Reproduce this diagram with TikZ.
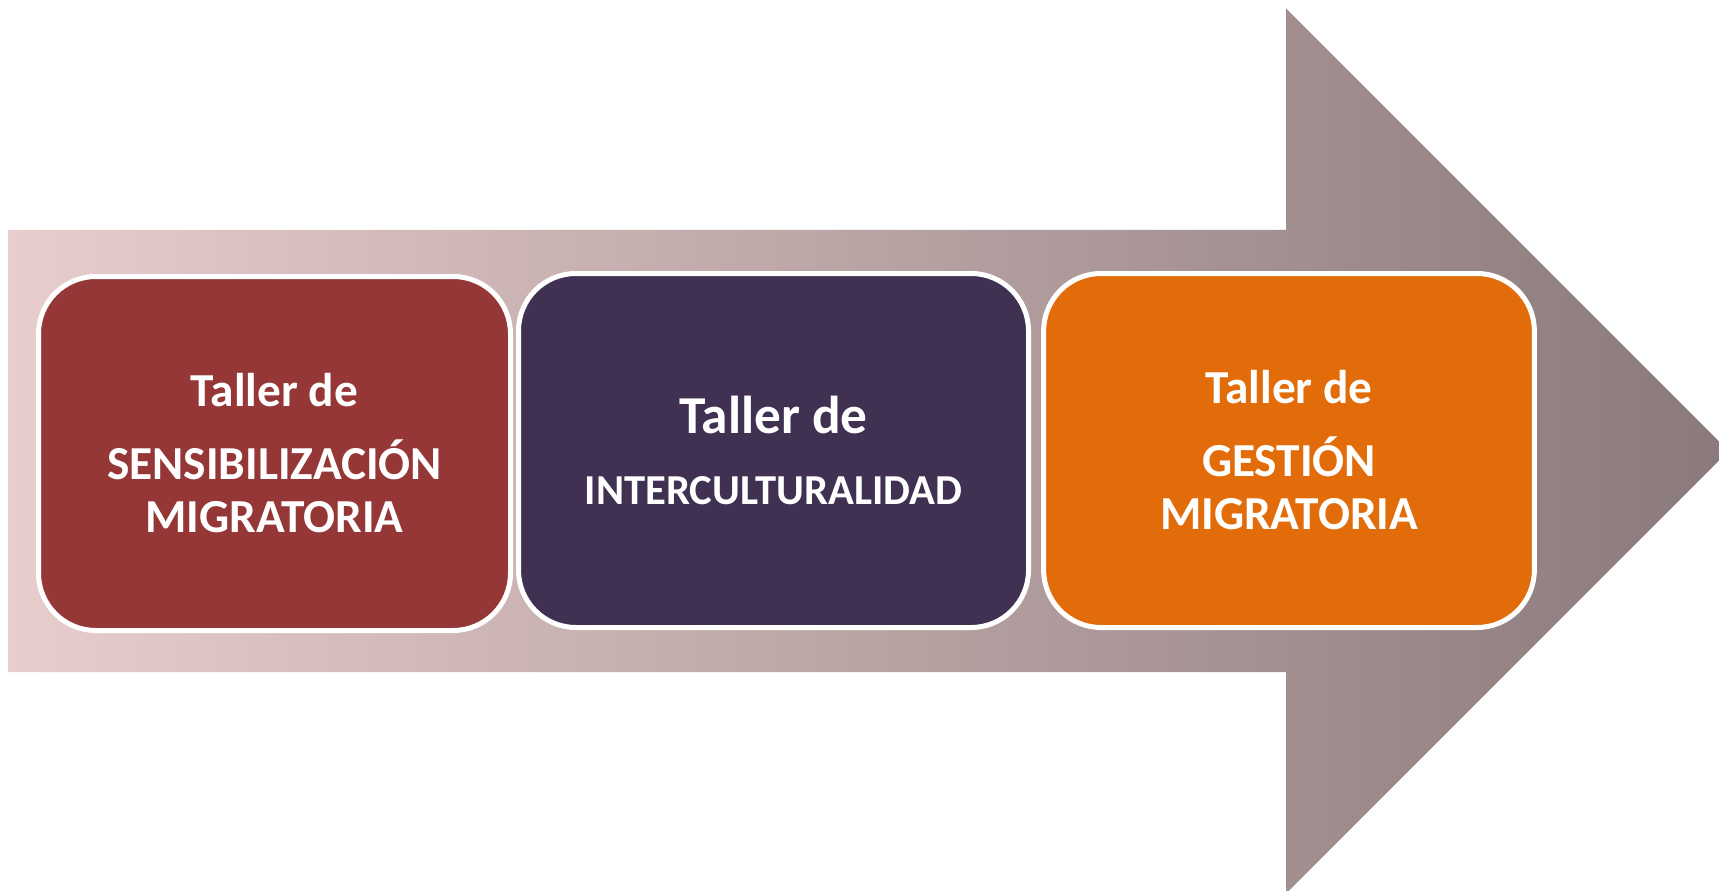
\documentclass[tikz,border=0pt]{standalone}
\usepackage{fontspec}
\setmainfont{Carlito}
\usetikzlibrary{positioning}

\definecolor{rojoTaller}{RGB}{150,55,55}
\definecolor{moradoTaller}{RGB}{64,49,82}
\definecolor{naranjaTaller}{RGB}{227,108,10}
\definecolor{flechaIzq}{RGB}{232,205,205}
\definecolor{flechaDer}{RGB}{138,122,123}

\begin{document}
\begin{tikzpicture}[x=0.75pt,y=0.75pt,yscale=-1,xscale=1,
  taller/.style={draw=white,line width=3.75pt,rounded corners=43pt,inner sep=0pt,
    minimum height=265.5pt,text=white,align=center,font=\bfseries\fontsize{35.5}{39.75}\selectfont}]
\useasboundingbox (0,0) rectangle (1719,891);

%Right Arrow [id:dp_flecha]
\shade [left color=flechaIzq,right color=flechaDer]
  (8.5,230) -- (1286,230) -- (1286,8.5) -- (1719,441.5) -- (1719,460.5)
  -- (1288.5,891) -- (1286,891) -- (1286,672) -- (8.5,672) -- cycle ;

%Rounded Rect [id:dp_sensib]
\node [taller,fill=rojoTaller,minimum width=354pt] (sensib) at (274.5,453.5)
  {Taller de\\[15pt] SENSIBILIZACIÓN\\MIGRATORIA};
%Rounded Rect [id:dp_intercult]
\node [taller,fill=moradoTaller,minimum width=382.5pt] (intercult) at (773.5,450.5)
  {{\fontsize{40}{44}\selectfont Taller de}\\[14pt] {\fontsize{32}{36}\selectfont INTERCULTURALIDAD}};
%Rounded Rect [id:dp_gestion]
\node [taller,fill=naranjaTaller,minimum width=368pt] (gestion) at (1289,450.5)
  {Taller de\\[15pt] GESTIÓN\\MIGRATORIA};

\end{tikzpicture}
\end{document}
